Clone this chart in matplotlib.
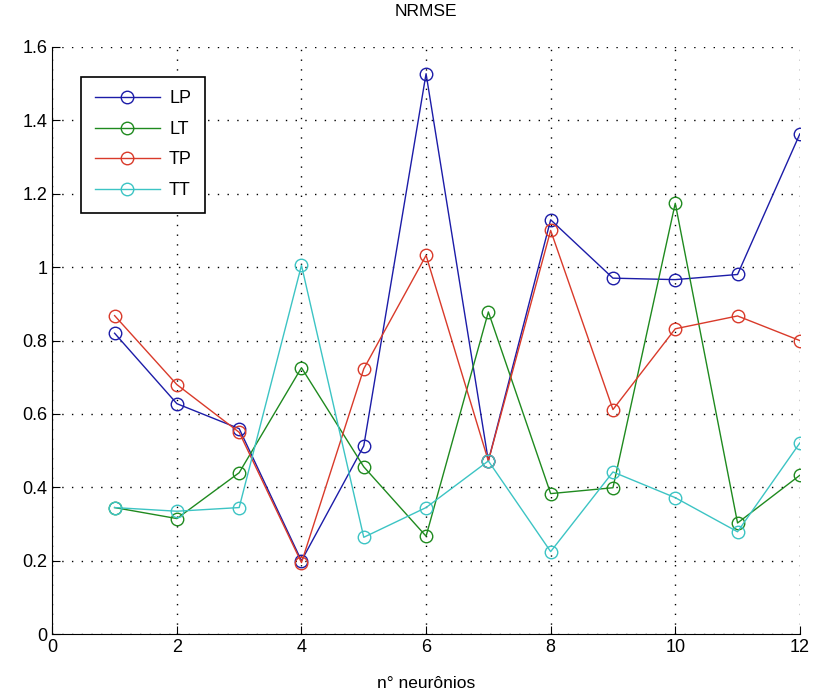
import matplotlib
matplotlib.use("Agg")
import matplotlib.pyplot as plt

plt.rcParams["font.family"] = ["Liberation Sans", "DejaVu Sans"]

neurons = [1, 2, 3, 4, 5, 6, 7, 8, 9, 10, 11, 12]
lp = [0.82, 0.628, 0.56, 0.20, 0.513, 1.527, 0.472, 1.129, 0.970, 0.966, 0.980, 1.363]
lt = [0.345, 0.315, 0.44, 0.726, 0.456, 0.267, 0.878, 0.383, 0.399, 1.174, 0.303, 0.433]
tp = [0.868, 0.680, 0.55, 0.195, 0.723, 1.032, 0.472, 1.10, 0.612, 0.832, 0.867, 0.800]
tt = [0.345, 0.335, 0.345, 1.005, 0.264, 0.345, 0.472, 0.225, 0.442, 0.372, 0.279, 0.521]

series = [("LP", lp, "#1c1ca8"), ("LT", lt, "#1f8a1f"),
          ("TP", tp, "#d93a2a"), ("TT", tt, "#3cc4c4")]

fig = plt.figure(figsize=(8.17, 7.0), dpi=100)
ax = fig.add_axes([0.064, 0.094, 0.915, 0.839])

for name, vals, col in series:
    ax.plot(neurons, vals, "-o", color=col, lw=1.0, ms=9,
            mfc="none", mec=col, mew=1.0, label=name)

ax.set_xlim(0, 12)
ax.set_ylim(0, 1.6)
ax.set_xticks(range(0, 13, 2))
ax.set_yticks([0, 0.2, 0.4, 0.6, 0.8, 1.0, 1.2, 1.4, 1.6])
ax.set_yticklabels(["0", "0.2", "0.4", "0.6", "0.8", "1", "1.2", "1.4", "1.6"])
ax.grid(True, color="black", linestyle=(0, (1, 6)), linewidth=1.0)
ax.spines["top"].set_visible(False)
ax.spines["right"].set_visible(False)
ax.tick_params(direction="in", length=6, labelsize=13, color="black")

ax.set_title("NRMSE", fontsize=12.5, pad=22)
ax.set_xlabel("n° neurônios", fontsize=12.5, labelpad=14)

leg = ax.legend(loc="upper left", bbox_to_anchor=(0.039, 0.949), fontsize=13,
                fancybox=False, framealpha=1, edgecolor="black",
                handlelength=3.6, handletextpad=0.5, borderpad=0.75,
                labelspacing=0.75, borderaxespad=0)
leg.get_frame().set_linewidth(1.2)

fig.savefig("out.png", dpi=100)
